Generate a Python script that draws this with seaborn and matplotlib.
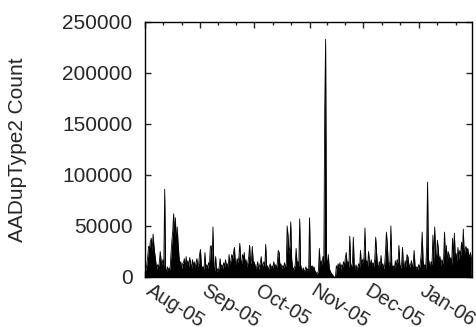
import numpy as np
import pandas as pd
import seaborn as sns
import matplotlib.pyplot as plt
import matplotlib.dates as mdates
from matplotlib.ticker import FixedLocator
from matplotlib.transforms import ScaledTranslation

# AADupType2 counts in thousands, two samples per day (00:00 and 12:00)
aug_05 = [10, 6, 12, 20, 30, 28, 35, 38, 25, 42, 30, 22, 15, 8, 12, 10, 14, 25, 16, 12,
          17, 10, 86, 8, 5, 10, 6, 9, 7, 22, 35, 45, 62, 38, 58, 30, 49, 33, 20, 12,
          15, 8, 13, 14, 18, 9, 20, 12, 16, 10, 19, 13, 8, 17, 11, 15, 9, 14, 18, 10,
          13, 22]
sep_05 = [27, 12, 8, 10, 7, 24, 9, 12, 8, 14, 11, 29, 31, 15, 49, 10, 6, 20, 5, 8,
          6, 10, 18, 9, 12, 8, 14, 10, 17, 11, 13, 9, 22, 12, 16, 22, 18, 24, 29, 15,
          12, 18, 14, 20, 33, 16, 13, 22, 18, 24, 12, 17, 10, 14, 20, 31, 13, 16, 30, 14]
oct_05 = [15, 12, 8, 10, 15, 7, 11, 14, 20, 9, 12, 15, 10, 32, 9, 11, 7, 10, 13, 8,
          11, 9, 15, 10, 12, 8, 14, 26, 24, 10, 13, 8, 11, 9, 14, 10, 12, 50, 40, 22,
          30, 54, 18, 10, 7, 9, 12, 28, 13, 15, 10, 57, 12, 8, 6, 9, 5, 7, 10, 6,
          8, 5]
nov_05 = [58, 12, 9, 11, 8, 10, 6, 5, 3, 4, 6, 28, 10, 16, 12, 20, 14, 165, 233, 18,
          12, 22, 9, 6, 4, 3, 2, 0, 0, 0, 11, 8, 13, 9, 14, 7, 12, 10, 15, 11,
          18, 24, 13, 15, 9, 40, 12, 10, 14, 39, 11, 8, 12, 7, 10, 13, 9, 26, 12, 17]
dec_05 = [14, 20, 48, 13, 16, 10, 25, 15, 12, 17, 11, 14, 10, 18, 39, 24, 12, 9, 15, 11,
          21, 10, 13, 8, 12, 25, 44, 32, 14, 11, 16, 50, 12, 9, 11, 8, 16, 10, 17, 13,
          31, 12, 9, 13, 29, 11, 10, 16, 9, 22, 20, 13, 10, 12, 16, 9, 13, 26, 11, 8,
          10, 7]
jan_06 = [12, 9, 14, 23, 44, 16, 10, 12, 8, 30, 93, 18, 13, 10, 15, 12, 41, 14, 49, 22,
          18, 36, 28, 15, 20, 11, 17, 13, 19, 44, 15, 31, 14, 25, 22, 16, 19, 12, 38, 18,
          43, 20, 23, 15, 29, 17, 26, 21, 34, 24, 47, 22, 27, 30, 25, 28, 22, 20, 24, 18]

month_labels = ["Aug-05", "Sep-05", "Oct-05", "Nov-05", "Dec-05", "Jan-06"]
y_ticks = [0, 50000, 100000, 150000, 200000, 250000]

counts = np.array(aug_05 + sep_05 + oct_05 + nov_05 + dec_05 + jan_06) * 1000
times = pd.date_range("2005-08-01", periods=len(counts), freq="12h")
df = pd.DataFrame({"time": times, "count": counts})

sns.set_style("ticks")
plt.rcParams["font.family"] = ["Liberation Sans", "DejaVu Sans"]

fig = plt.figure(figsize=(4.77, 3.27), dpi=100)
ax = fig.add_axes([0.304, 0.153, 0.686, 0.780])

sns.lineplot(data=df, x="time", y="count", color="black", lw=0.6,
             estimator=None, ax=ax)
ax.fill_between(df["time"], df["count"], color="black", lw=0)

ax.set_xlim(pd.Timestamp("2005-08-01"), pd.Timestamp("2006-01-31"))
ax.set_ylim(0, 250000)
ax.set_yticks(y_ticks)
ax.set_yticklabels([str(v) for v in y_ticks], fontsize=15)

# monthly major ticks, each month split in three for minor ticks
majors = mdates.date2num(pd.date_range("2005-08-01", "2006-02-01", freq="MS"))
minors = []
for a, b in zip(majors[:-1], majors[1:]):
    minors += [a + (b - a) / 3, a + 2 * (b - a) / 3]
ax.xaxis.set_major_locator(FixedLocator(majors[:-1]))
ax.xaxis.set_minor_locator(FixedLocator(minors))
ax.set_xticklabels(month_labels, fontsize=14.5, rotation=-32,
                   rotation_mode="anchor", ha="left", va="baseline")
shift = ScaledTranslation(-3 / 100, 0, fig.dpi_scale_trans)
for lbl in ax.get_xticklabels():
    lbl.set_transform(lbl.get_transform() + shift)

ax.tick_params(which="both", direction="in", top=True, right=True, width=1)
ax.tick_params(which="major", length=4)
ax.tick_params(which="minor", length=2.5)
ax.tick_params(axis="x", pad=12)
ax.tick_params(axis="y", pad=9)
for s in ax.spines.values():
    s.set_linewidth(1)
    s.set_color("black")

ax.set_xlabel("")
ax.set_ylabel("AADupType2 Count", fontsize=15)
ax.yaxis.set_label_coords(-0.361, 0.5)

fig.savefig("out.png", dpi=100)
